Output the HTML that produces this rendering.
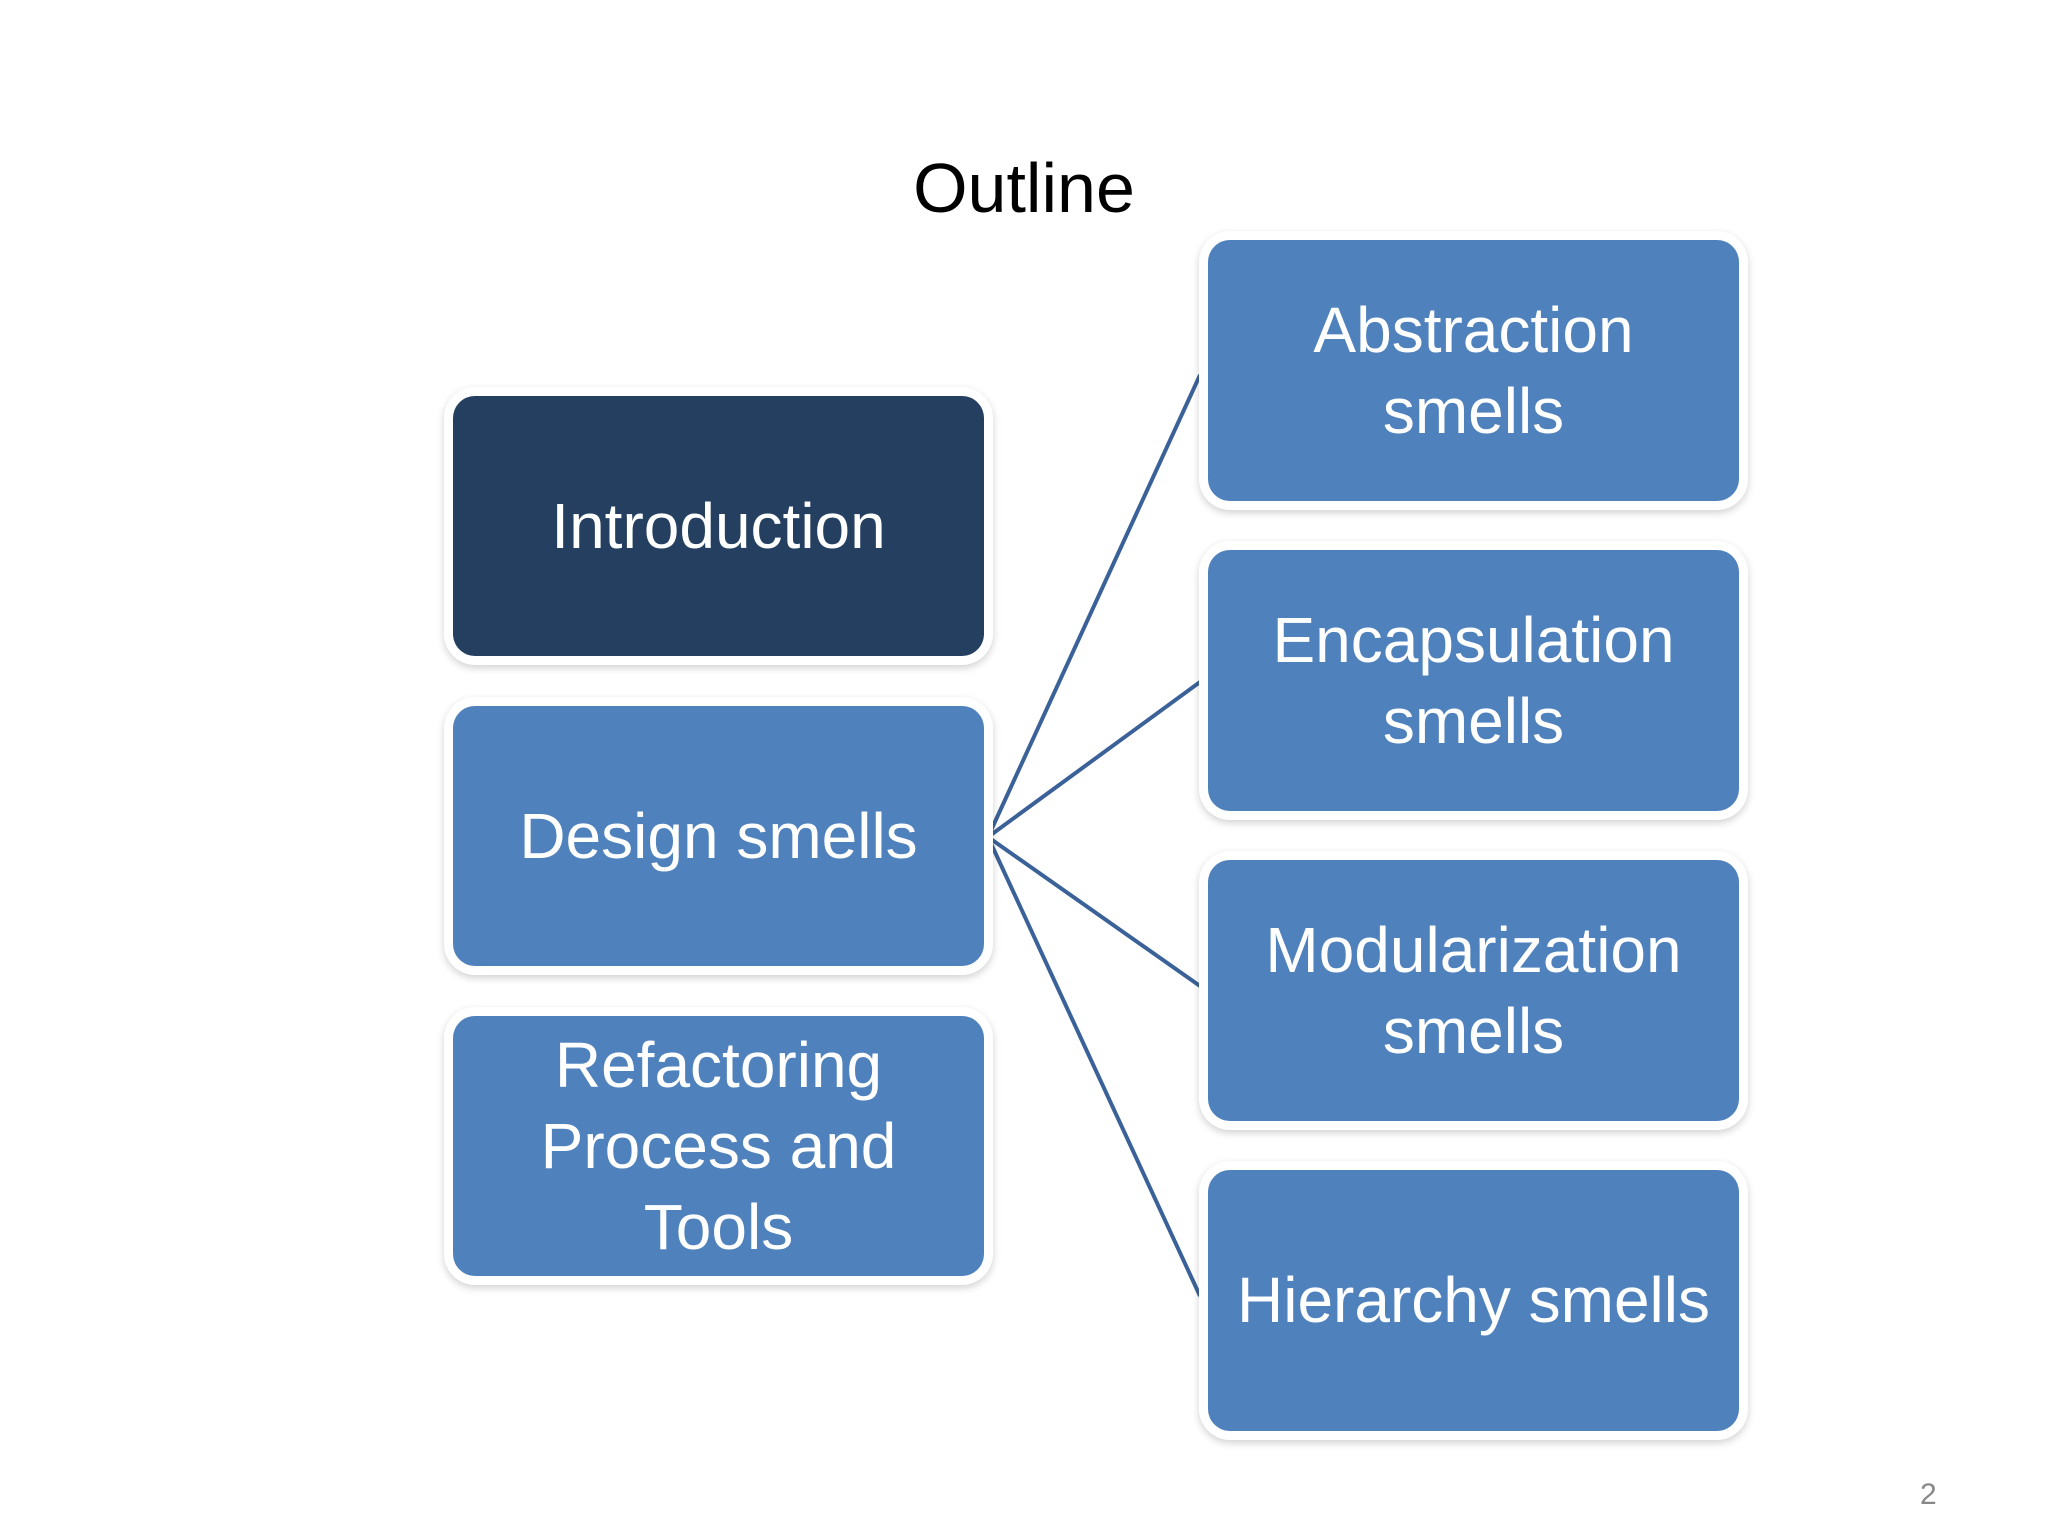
<!DOCTYPE html>
<html><head><meta charset="utf-8"><style>
html,body{margin:0;padding:0;background:#fff;}
body{width:2048px;height:1536px;position:relative;overflow:hidden;font-family:"Liberation Sans",sans-serif;}
.b{position:absolute;box-sizing:border-box;background:#4f81bd;border-radius:22px;box-shadow:0 0 0 9px #fff,0 3px 8px 9px rgba(0,0,0,0.18);color:#fff;font-size:64px;line-height:81px;display:flex;align-items:center;justify-content:center;text-align:center;}
.d{background:#243f60;}
</style></head><body>
<div style="position:absolute;left:0;width:2048px;top:148px;text-align:center;font-size:70px;line-height:80px;color:#000;">Outline</div>
<svg width="2048" height="1536" style="position:absolute;left:0;top:0">
<g stroke="#3b6298" stroke-width="4" fill="none">
<line x1="988" y1="837" x2="1200" y2="375"/>
<line x1="988" y1="837" x2="1200" y2="682"/>
<line x1="988" y1="837" x2="1200" y2="986"/>
<line x1="988" y1="837" x2="1200" y2="1296"/>
</g></svg>
<div class="b d" style="left:453px;top:396px;width:531px;height:260px;">Introduction</div>
<div class="b" style="left:453px;top:706px;width:531px;height:260px;">Design smells</div>
<div class="b" style="left:453px;top:1016px;width:531px;height:260px;">Refactoring<br>Process and<br>Tools</div>
<div class="b" style="left:1208px;top:240px;width:531px;height:261px;">Abstraction<br>smells</div>
<div class="b" style="left:1208px;top:550px;width:531px;height:261px;">Encapsulation<br>smells</div>
<div class="b" style="left:1208px;top:860px;width:531px;height:261px;">Modularization<br>smells</div>
<div class="b" style="left:1208px;top:1170px;width:531px;height:261px;">Hierarchy smells</div>
<div style="position:absolute;left:1920px;top:1478px;font-size:30px;color:#888;">2</div>
</body></html>
